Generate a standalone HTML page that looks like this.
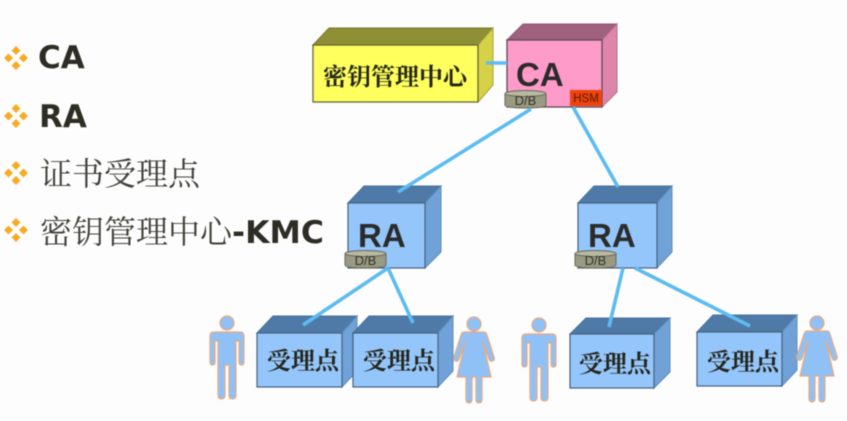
<!DOCTYPE html>
<html><head><meta charset="utf-8">
<style>html,body{margin:0;padding:0;background:#fdfdfd;width:847px;height:421px;overflow:hidden}
svg{display:block;filter:blur(.6px)}
.b{font-family:"DejaVu Sans","Liberation Sans",sans-serif;font-weight:700;fill:#2e2d24}
.z{font-family:"Liberation Serif","Noto Serif CJK SC",serif;font-size:32px;fill:#3f3f3a}
.l{font-family:"Liberation Serif","Noto Serif CJK SC",serif;font-weight:700;fill:#25251c}
.s{font-family:"Liberation Sans",sans-serif;font-weight:700;fill:#2b2b2b}
.d{font-family:"Liberation Sans",sans-serif;font-size:13px;fill:#33332a}
</style></head><body>
<svg width="847" height="421" viewBox="0 0 847 421" xmlns="http://www.w3.org/2000/svg">
<defs>
<g id="bl" fill="#f5ac25"><path d="M0,-12 L4.5,-7.5 L0,-3 L-4.5,-7.5Z"/><path d="M0,12 L4.5,7.5 L0,3 L-4.5,7.5Z"/><path d="M-12,0 L-7.5,-4.5 L-3,0 L-7.5,4.5Z"/><path d="M12,0 L7.5,-4.5 L3,0 L7.5,4.5Z"/></g>
<g id="man" fill="#8fc1f7" stroke="#eda878" stroke-width="1.2" stroke-linejoin="round"><circle cx="0" cy="-9" r="7"/><path d="M-13,0 H13 Q17,0 17,4 V30 Q17,33 14.5,33 Q12,33 12,30 V9 H9 V63 Q9,67 5.5,67 Q2,67 2,63 V33 H-2 V63 Q-2,67 -5.5,67 Q-9,67 -9,63 V9 H-12 V30 Q-12,33 -14.5,33 Q-17,33 -17,30 V4 Q-17,0 -13,0Z"/></g>
<g id="wom" fill="#8fc1f7" stroke="#eda878" stroke-width="1.2" stroke-linejoin="round"><circle cx="0" cy="-8" r="7"/><path d="M-10,0 H10 Q12,0 13,3 L20,25 Q21,28 18.5,29 Q16,30 15,27 L9,10 L17,45 H8 V67 Q8,71 5,71 Q2,71 2,67 V45 H-2 V67 Q-2,71 -5,71 Q-8,71 -8,67 V45 H-17 L-9,10 L-15,27 Q-16,30 -18.5,29 Q-21,28 -20,25 L-13,3 Q-12,0 -10,0Z"/></g>
<g id="db"><path d="M0,4 V15 Q0,18 20.5,18 Q41,18 41,15 V4Z" fill="#9a9a82" stroke="#66665a"/><ellipse cx="20.5" cy="3.5" rx="20.5" ry="3" fill="#b9b9a2" stroke="#66665a"/><text class="d" x="20.5" y="15" text-anchor="middle">D/B</text></g>
</defs>
<rect width="847" height="421" fill="#fdfdfd"/>

<use href="#bl" x="16" y="58"/><use href="#bl" x="16" y="116"/><use href="#bl" x="16" y="173"/><use href="#bl" x="16" y="230"/>
<text class="b" x="38" y="68" font-size="31">CA</text>
<text class="b" x="39" y="127" font-size="31">RA</text>
<text class="z" x="40" y="185">证书受理点</text>
<text class="z" x="40" y="243">密钥管理中心</text>
<text class="b" x="232" y="243" font-size="31.5">-KMC</text>

<!-- KMC -->
<path d="M313,45 L329,28 H493 L478,45Z" fill="#8f8f35" stroke="#77772f"/>
<path d="M478,45 L493,28 V85 L478,102Z" fill="#d6d248" stroke="#a5a23c"/>
<rect x="313" y="45" width="165" height="57" fill="#ffff5e" stroke="#66663a" stroke-width="1.3"/>
<text class="l" x="323" y="85" font-size="24">密钥管理中心</text>

<!-- CA -->
<path d="M507,40 L523,24 H617 L602,40Z" fill="#a0617f" stroke="#8c5570"/>
<path d="M602,40 L617,24 V92 L602,107Z" fill="#de85ab" stroke="#b56f8d"/>
<rect x="507" y="40" width="95" height="67" fill="#ff9bc8" stroke="#5b4a55" stroke-width="1.3"/>
<text class="s" x="516" y="86" font-size="33">CA</text>
<rect x="570" y="90" width="32" height="16" fill="#f0420a"/>
<text x="586" y="102" text-anchor="middle" font-family="Liberation Sans" font-size="11.5" fill="#4a2008">HSM</text>
<use href="#db" x="505" y="90"/>

<!-- RA 1 -->
<path d="M348,203 L364,186 H441 L425,203Z" fill="#4f7aa8" stroke="#47709a"/>
<path d="M425,203 L441,186 V252 L425,268Z" fill="#70a2d8" stroke="#5f8cbb"/>
<rect x="348" y="203" width="77" height="65" fill="#94c6fb" stroke="#45617c" stroke-width="1.2"/>
<text class="s" x="358" y="247" font-size="33">RA</text>
<use href="#db" x="345" y="250"/>

<!-- RA 2 -->
<path d="M578,203 L594,186 H672 L657,203Z" fill="#4f7aa8" stroke="#47709a"/>
<path d="M657,203 L672,186 V252 L657,268Z" fill="#70a2d8" stroke="#5f8cbb"/>
<rect x="578" y="203" width="79" height="65" fill="#94c6fb" stroke="#45617c" stroke-width="1.2"/>
<text class="s" x="588" y="247" font-size="33">RA</text>
<use href="#db" x="575" y="250"/>

<!-- leaves -->
<path d="M257,333 L273,316 H357 L342,333Z" fill="#4f7aa8" stroke="#47709a"/>
<path d="M342,333 L357,316 V371 L342,387Z" fill="#70a2d8" stroke="#5f8cbb"/>
<rect x="257" y="333" width="85" height="54" fill="#94c6fb" stroke="#45617c" stroke-width="1.2"/>
<text class="l" x="267" y="369" font-size="24">受理点</text>

<path d="M353,333 L369,316 H453 L438,333Z" fill="#4f7aa8" stroke="#47709a"/>
<path d="M438,333 L453,316 V371 L438,387Z" fill="#70a2d8" stroke="#5f8cbb"/>
<rect x="353" y="333" width="85" height="54" fill="#94c6fb" stroke="#45617c" stroke-width="1.2"/>
<text class="l" x="363" y="369" font-size="24">受理点</text>

<path d="M570,334 L586,318 H670 L654,334Z" fill="#4f7aa8" stroke="#47709a"/>
<path d="M654,334 L670,318 V372 L654,388Z" fill="#70a2d8" stroke="#5f8cbb"/>
<rect x="570" y="334" width="84" height="54" fill="#94c6fb" stroke="#45617c" stroke-width="1.2"/>
<text class="l" x="579" y="372" font-size="24">受理点</text>

<path d="M697,332 L713,315 H797 L782,332Z" fill="#4f7aa8" stroke="#47709a"/>
<path d="M782,332 L797,315 V370 L782,386Z" fill="#70a2d8" stroke="#5f8cbb"/>
<rect x="697" y="332" width="85" height="54" fill="#94c6fb" stroke="#45617c" stroke-width="1.2"/>
<text class="l" x="707" y="370" font-size="24">受理点</text>

<!-- connectors -->
<g stroke="#5cbcf1" stroke-width="3.6" stroke-linecap="butt" fill="none">
<path d="M486,63 H507"/>
<path d="M531,109 L398,192"/>
<path d="M573,107 L618,187"/>
<path d="M388,268 L303,325"/>
<path d="M388,268 L413,323"/>
<path d="M623,268 L609,327"/>
<path d="M635,268 L750,326"/>
</g>

<use href="#man" x="227" y="332"/>
<use href="#wom" x="474" y="332"/>
<use href="#man" x="539" y="334"/>
<use href="#wom" x="817" y="331"/>
</svg>
</body></html>
